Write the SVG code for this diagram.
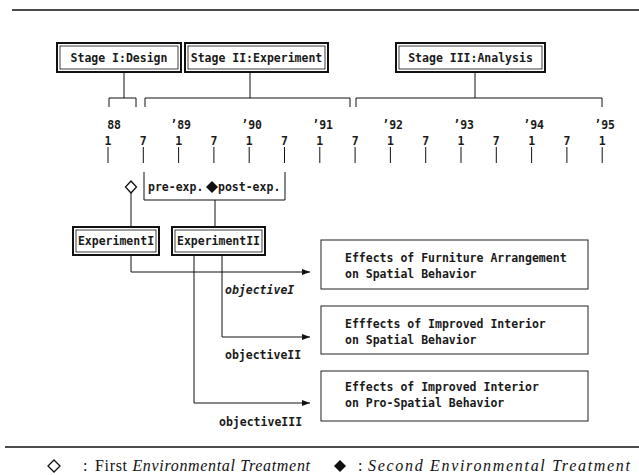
<svg xmlns="http://www.w3.org/2000/svg" width="639" height="475" viewBox="0 0 639 475">
<style>
.mono{font-family:"DejaVu Sans Mono","Liberation Mono",monospace;font-size:11.5px;font-weight:bold;fill:#1a1a1a}
.mid{text-anchor:middle}
.ln{stroke:#111;stroke-width:1;fill:none}
.rule{stroke:#111;stroke-width:1.6;fill:none}
.bo{fill:#fff;stroke:#111;stroke-width:2}
.bi{fill:none;stroke:#111;stroke-width:0.8}
.b1{fill:#fff;stroke:#222;stroke-width:1}
.leg{font-family:"Liberation Serif","Times New Roman",serif;font-size:16px;fill:#111}
.od{fill:#fff;stroke:#111;stroke-width:1.3}
.fd{fill:#111}
</style>
<defs>
<marker id="ah" viewBox="0 0 8 6" refX="8" refY="3" markerWidth="8" markerHeight="6" markerUnits="userSpaceOnUse" orient="auto"><path d="M0,0 L8,3 L0,6 z" fill="#111"/></marker>
</defs>
<g id="rules">
<line class="rule" x1="12" y1="10" x2="639" y2="10"/>
<line class="rule" x1="5" y1="447" x2="639" y2="447"/>
</g>
<g id="connectors">
<path class="ln" d="M124,72 V98"/>
<path class="ln" d="M109,107 V98 H136 V107"/>
<path class="ln" d="M250,72 V98"/>
<path class="ln" d="M145,107 V98 H350 V107"/>
<path class="ln" d="M475,72 V98"/>
<path class="ln" d="M356,107 V98 H602 V107"/>
<path class="ln" d="M131,193 V227"/>
<path class="ln" d="M215,200 V227"/>
<path class="ln" d="M131,255 V272 H310" marker-end="url(#ah)"/>
<path class="ln" d="M222,255 V337 H310" marker-end="url(#ah)"/>
<path class="ln" d="M194,255 V403 H310" marker-end="url(#ah)"/>
</g>
<g id="stage1">
<rect class="bo" x="57" y="43" width="124" height="29"/>
<rect class="bi" x="60" y="46" width="118" height="23"/>
<text class="mono mid" x="119" y="61.5">Stage I:Design</text>
</g>
<g id="stage2">
<rect class="bo" x="185" y="43" width="143" height="29"/>
<rect class="bi" x="188" y="46" width="137" height="23"/>
<text class="mono mid" x="256.5" y="61.5">Stage II:Experiment</text>
</g>
<g id="stage3">
<rect class="bo" x="396" y="43" width="149" height="29"/>
<rect class="bi" x="399" y="46" width="143" height="23"/>
<text class="mono mid" x="470.5" y="61.5">Stage III:Analysis</text>
</g>
<g id="timeline">
<g class="mono" text-anchor="end">
<text x="121" y="129">88</text>
<text x="191" y="129">’89</text>
<text x="262" y="129">’90</text>
<text x="333" y="129">’91</text>
<text x="403" y="129">’92</text>
<text x="474" y="129">’93</text>
<text x="544" y="129">’94</text>
<text x="615" y="129">’95</text>
</g>
<g class="mono mid">
<text x="108" y="145">1</text><text x="143.3" y="145">7</text>
<text x="178.6" y="145">1</text><text x="213.9" y="145">7</text>
<text x="249.2" y="145">1</text><text x="284.5" y="145">7</text>
<text x="319.8" y="145">1</text><text x="355.1" y="145">7</text>
<text x="390.4" y="145">1</text><text x="425.7" y="145">7</text>
<text x="461" y="145">1</text><text x="496.3" y="145">7</text>
<text x="531.6" y="145">1</text><text x="566.9" y="145">7</text>
<text x="602.2" y="145">1</text>
</g>
<path class="ln" d="M108,147v16M143.3,147v16M178.6,147v16M213.9,147v16M249.2,147v16M284.5,147v16M319.8,147v16M355.1,147v16M390.4,147v16M425.7,147v16M461,147v16M496.3,147v16M531.6,147v16M566.9,147v16M602.2,147v16"/>
</g>
<g id="treatment1">
<path class="od" d="M131,181 L136.5,187 L131,193 L125.5,187 Z"/>
</g>
<g id="experiment-period">
<path class="ln" d="M144,172 V200 H285 V172"/>
<text class="mono" x="148" y="191">pre-exp.</text>
<path class="fd" d="M212,181 L218,187 L212,193 L206,187 Z"/>
<text class="mono" x="218" y="191">post-exp.</text>
</g>
<g id="experiment1">
<rect class="bo" x="73" y="227" width="86" height="28"/>
<rect class="bi" x="76" y="230" width="80" height="22"/>
<text class="mono mid" x="116" y="245">ExperimentI</text>
</g>
<g id="experiment2">
<rect class="bo" x="172" y="227" width="93" height="28"/>
<rect class="bi" x="175" y="230" width="87" height="22"/>
<text class="mono mid" x="218.5" y="245">ExperimentII</text>
</g>
<g id="labels">
<text class="mono" x="225" y="294" font-style="italic">objectiveI</text>
<text class="mono" x="225" y="359">objectiveII</text>
<text class="mono" x="219" y="426">objectiveIII</text>
</g>
<g id="effect1">
<rect class="b1" x="321" y="240" width="267" height="49"/>
<text class="mono" x="345" y="262">Effects of Furniture Arrangement</text>
<text class="mono" x="345" y="278">on Spatial Behavior</text>
</g>
<g id="effect2">
<rect class="b1" x="321" y="306" width="267" height="48"/>
<text class="mono" x="345" y="328">Efffects of Improved Interior</text>
<text class="mono" x="345" y="344">on Spatial Behavior</text>
</g>
<g id="effect3">
<rect class="b1" x="321" y="371" width="267" height="50"/>
<text class="mono" x="345" y="391">Effects of Improved Interior</text>
<text class="mono" x="345" y="407">on Pro-Spatial Behavior</text>
</g>
<g id="legend">
<path class="od" d="M54,460 L60,466 L54,472 L48,466 Z"/>
<text class="leg" x="83" y="471">:</text>
<text class="leg" x="95" y="471" textLength="215">First <tspan font-style="italic">Environmental Treatment</tspan></text>
<path class="fd" d="M340,460 L346,466 L340,472 L334,466 Z"/>
<text class="leg" x="358" y="471">:</text>
<text class="leg" x="368" y="471" font-style="italic" textLength="262">Second Environmental Treatment</text>
</g>
</svg>
